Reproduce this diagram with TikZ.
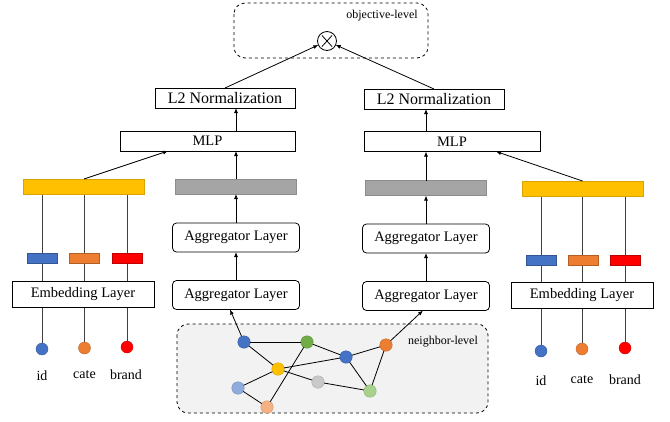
\documentclass[tikz,border=0pt]{standalone}
\usepackage{fontspec}
\setmainfont{Liberation Serif}
\usetikzlibrary{arrows.meta,backgrounds}
\definecolor{cblue}{HTML}{4472C4}
\definecolor{corange}{HTML}{ED7D31}
\definecolor{cred}{HTML}{FF0000}
\definecolor{cyellow}{HTML}{FFC000}
\definecolor{cgraybar}{HTML}{A5A5A5}
\definecolor{cgreen}{HTML}{70AD47}
\definecolor{clblue}{HTML}{8FAADC}
\definecolor{csalmon}{HTML}{F4B183}
\definecolor{clgreen}{HTML}{A9D18E}
\definecolor{clgray}{HTML}{C9C9C9}
\definecolor{cpanel}{HTML}{F2F2F2}
\definecolor{cline}{HTML}{404040}
\begin{document}
\begin{tikzpicture}[x=1pt,y=-1pt,
  every node/.style={inner sep=0pt, outer sep=0pt},
  layerbox/.style={draw, fill=white, line width=0.8pt, font=\fontsize{14.5}{16}\selectfont},
  l2box/.style={layerbox, minimum width=140pt, minimum height=20pt, font=\fontsize{16}{18}\selectfont},
  mlpbox/.style={layerbox, minimum width=175pt, minimum height=20pt},
  aggbox/.style={layerbox, rounded corners=4pt, minimum width=127pt, minimum height=29pt},
  embbox/.style={layerbox, minimum width=142pt, minimum height=26pt},
  bar/.style={draw=#1!85!black, fill=#1, line width=0.5pt, minimum width=121pt, minimum height=15pt},
  chip/.style={draw=#1!75!black, fill=#1, line width=0.5pt, minimum width=30pt, minimum height=10pt},
  feat/.style={circle, draw=#1!80!black, fill=#1, line width=0.4pt, minimum size=12pt},
  gnode/.style={circle, draw=#1!85!black, fill=#1, line width=0.4pt, minimum size=12.5pt},
  lbl/.style={font=\fontsize{14}{16}\selectfont},
  small/.style={font=\fontsize{12}{14}\selectfont},
  arr/.style={-{Latex[length=5pt,width=4pt]}, line width=0.8pt},
  vline/.style={draw=cline, line width=0.9pt},
  edge/.style={line width=0.8pt},
  panel/.style={draw, dashed, line width=0.8pt, rounded corners=11pt}
]
\useasboundingbox (0,0) rectangle (670,421);

% panels
\draw[panel] (234,3) rectangle (428,58);
\node[small] (objlbl) at (382,16) {objective-level};
\draw[panel, fill=cpanel] (177,324) rectangle (488,413);
\node[small] (nbrlbl) at (443,342) {neighbor-level};

% objective
\node[circle, draw, fill=white, line width=0.8pt, minimum size=19pt] (ot) at (327,41) {};
\draw[line width=0.8pt] ([shift={(-5,-5.5)}]ot.center) -- ([shift={(5,5.5)}]ot.center)
                        ([shift={(-5,5.5)}]ot.center) -- ([shift={(5,-5.5)}]ot.center);

% left tower
\node[l2box] (l2L) at (225,98) {L2 Normalization};
\node[mlpbox] (mlpL) at (207.5,141) {MLP};
\node[bar=cyellow] (yelL) at (84,186.5) {};
\node[bar=cgraybar] (grayL) at (236,186.5) {};
\node[aggbox] (aggL2) at (236,237.5) {Aggregator Layer};
\node[aggbox] (aggL1) at (236,295) {Aggregator Layer};
\node[chip=cblue] (chL1) at (42,258) {};
\node[chip=corange] (chL2) at (84.5,258) {};
\node[chip=cred] (chL3) at (127,258) {};
\node[embbox] (embL) at (83,294) {Embedding Layer};
\node[feat=cblue] (fL1) at (42,349) {};
\node[feat=corange] (fL2) at (84.5,348) {};
\node[feat=cred] (fL3) at (127,347) {};
\node[lbl] (tL1) at (42,376) {id};
\node[lbl] (tL2) at (84.5,375) {cate};
\node[lbl] (tL3) at (126,375) {brand};

% right tower
\node[l2box] (l2R) at (434,99) {L2 Normalization};
\node[mlpbox, minimum width=176pt] (mlpR) at (452,141.5) {MLP};
\node[bar=cgraybar] (grayR) at (426,188) {};
\node[bar=cyellow] (yelR) at (582.5,188.5) {};
\node[aggbox] (aggR2) at (426,238.5) {Aggregator Layer};
\node[aggbox] (aggR1) at (426,296) {Aggregator Layer};
\node[chip=cblue] (chR1) at (541,260) {};
\node[chip=corange] (chR2) at (583,260) {};
\node[chip=cred] (chR3) at (625,260) {};
\node[embbox] (embR) at (582,295.5) {Embedding Layer};
\node[feat=cblue] (fR1) at (541,351) {};
\node[feat=corange] (fR2) at (582,349) {};
\node[feat=cred] (fR3) at (625,348) {};
\node[lbl] (tR1) at (541,381) {id};
\node[lbl] (tR2) at (582,380) {cate};
\node[lbl] (tR3) at (625,380) {brand};

% graph
\node[gnode=cblue] (g1) at (244,342) {};
\node[gnode=cgreen] (g2) at (307,342) {};
\node[gnode=cblue] (g3) at (346,357) {};
\node[gnode=corange] (g4) at (386,345) {};
\node[gnode=cyellow] (g5) at (278,369) {};
\node[gnode=clgray] (g6) at (318,382) {};
\node[gnode=clgreen] (g7) at (370,391) {};
\node[gnode=clblue] (g8) at (238,388) {};
\node[gnode=csalmon] (g9) at (267,407) {};

\begin{pgfonlayer}{background}
  \draw[vline] (fL1) -- (fL1 |- yelL.south);
  \draw[vline] (fL2) -- (fL2 |- yelL.south);
  \draw[vline] (fL3) -- (fL3 |- yelL.south);
  \draw[vline] (fR1) -- (fR1 |- yelR.south);
  \draw[vline] (fR2) -- (fR2 |- yelR.south);
  \draw[vline] (fR3) -- (fR3 |- yelR.south);
\end{pgfonlayer}

% graph edges
\draw[edge] (g1) -- (g2);
\draw[edge] (g1) -- (g5);
\draw[edge] (g2) -- (g3);
\draw[edge] (g5) -- (g3);
\draw[edge] (g3) -- (g4);
\draw[edge] (g3) -- (g7);
\draw[edge] (g4) -- (g7);
\draw[edge] (g5) -- (g6);
\draw[edge] (g6) -- (g7);
\draw[edge] (g5) -- (g8);
\draw[edge] (g8) -- (g9);
\draw[edge] (g9) -- (g2);

% arrows
\draw[arr] (g1) -- ([xshift=-6pt]aggL1.south);
\draw[arr] (g4) -- ([xshift=-3pt]aggR1.south);
\draw[arr] (aggL1.north) -- (aggL2.south);
\draw[arr] (aggL2.north) -- (grayL.south);
\draw[arr] (aggR1.north) -- (aggR2.south);
\draw[arr] (aggR2.north) -- (grayR.south);
\draw[arr] (grayL.north) -- (grayL.north |- mlpL.south);
\draw[arr] (grayL.north |- mlpL.north) -- (grayL.north |- l2L.south);
\draw[arr] (grayR.north) -- (grayR.north |- mlpR.south);
\draw[arr] (grayR.north |- mlpR.north) -- (grayR.north |- l2R.south);
\draw[arr] (yelL.north) -- ([xshift=-39.5pt]mlpL.south);
\draw[arr] (yelR.north) -- ([xshift=44pt]mlpR.south);
\draw[arr] (l2L.north) -- (ot);
\draw[arr] (l2R.north) -- (ot);
\end{tikzpicture}
\end{document}
